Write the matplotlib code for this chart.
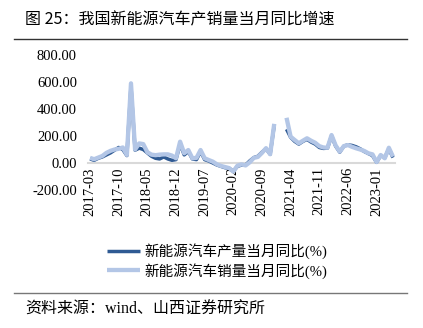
"""NEV production / sales monthly YoY growth, line chart."""
import numpy as np
import pandas as pd
import matplotlib
matplotlib.use("Agg")
import matplotlib.pyplot as plt
from matplotlib.lines import Line2D

plt.rcParams["axes.unicode_minus"] = False

CJK = ["Liberation Serif", "Noto Sans CJK SC"]
SANS = ["Noto Sans CJK SC", "DejaVu Sans"]

TITLE = "图 25：我国新能源汽车产销量当月同比增速"
SOURCE = "资料来源：wind、山西证券研究所"
PROD_LABEL = "新能源汽车产量当月同比(%)"
SALES_LABEL = "新能源汽车销量当月同比(%)"

months = pd.period_range("2017-03", "2023-05", freq="M").strftime("%Y-%m").tolist()

nan = np.nan
# 产量当月同比 (%)
production = [
    30, 20, 35, 45, 60, 75, 95, 115, 100, 55,
    570, 95, 110, 100, 75, 50, 35, 30, 45, 30,
    20, 25, 140, 60, 85, 30, 25, 85, 25, 15,
    0, -15, -25, -35, -40, -60, -25, -15, -15, 15,
    40, 50, 80, 105, 65, 280, nan, nan, 250, 190,
    160, 140, 160, 175, 155, 140, 115, 108, 110, 200,
    125, 80, 125, 135, 130, 120, 105, 85, 70, 55,
    5, 55, 40, 105, 40,
]
# 销量当月同比 (%)
sales = [
    38, 28, 40, 52, 75, 90, 100, 105, 115, 60,
    590, 100, 145, 140, 80, 62, 58, 62, 64, 64,
    55, 35, 158, 72, 96, 35, 38, 96, 35, 22,
    10, -10, -22, -30, -38, -64, -20, -10, -18, 5,
    38, 45, 75, 110, 65, 290, nan, nan, 335, 195,
    170, 146, 165, 183, 165, 150, 125, 115, 113, 207,
    130, 84, 125, 133, 120, 109, 100, 89, 72, 64,
    7, 59, 35, 113, 47,
]

y_ticks = [-200, 0, 200, 400, 600, 800]

DARK = "#2f5a93"
LIGHT = "#b3c6e6"

W, H = 423, 328
fig = plt.figure(figsize=(W / 100, H / 100), dpi=100)
ax = fig.add_axes([88 / W, 1 - 190 / H, 307 / W, 135 / H])

# spine position first: moving it resets the tick objects
for side in ("top", "right", "left"):
    ax.spines[side].set_visible(False)
ax.spines["bottom"].set_position(("data", 0))
ax.spines["bottom"].set_color("#d9d9d9")
ax.spines["bottom"].set_linewidth(1.5)
ax.spines["bottom"].set_zorder(1)
ax.patch.set_alpha(0)

x = np.arange(len(months))
ax.plot(x, production, color=DARK, lw=2.5, solid_capstyle="butt", label=PROD_LABEL, zorder=3)
ax.plot(x, sales, color=LIGHT, lw=3.1, solid_capstyle="butt", label=SALES_LABEL, zorder=4)

ax.set_xlim(-0.5, len(months) - 0.5)
ax.set_ylim(-200, 800)
ax.set_yticks(y_ticks)
ax.set_yticklabels([f"{v:.2f}" for v in y_ticks], family=CJK, fontsize=10.5)

tick_idx = list(range(0, len(months), 7))
ax.set_xticks(tick_idx)
ax.set_xticklabels([months[i] for i in tick_idx], rotation=90, family=CJK, fontsize=10.5)
ax.tick_params(length=0)
ax.tick_params(axis="x", pad=3)
ax.tick_params(axis="y", pad=8)

# legend below the plot
fig.legend(loc="center", bbox_to_anchor=(217 / W, 1 - 261 / H), frameon=False,
           prop={"family": CJK, "size": 10.5}, handlelength=2.3, handletextpad=0.3,
           labelspacing=0.25)

# title, rules, source
fig.text(25 / W, 1 - 20 / H, TITLE, family=SANS, fontsize=11.5, va="center", ha="left")
fig.add_artist(Line2D([14 / W, 407 / W], [1 - 39 / H] * 2, color="#333333", lw=1))
fig.add_artist(Line2D([14 / W, 407 / W], [1 - 293 / H] * 2, color="#777777", lw=1))
fig.text(25 / W, 1 - 310 / H, SOURCE, family=CJK, fontsize=11.5, va="center", ha="left")

fig.savefig("out.png", dpi=100)
